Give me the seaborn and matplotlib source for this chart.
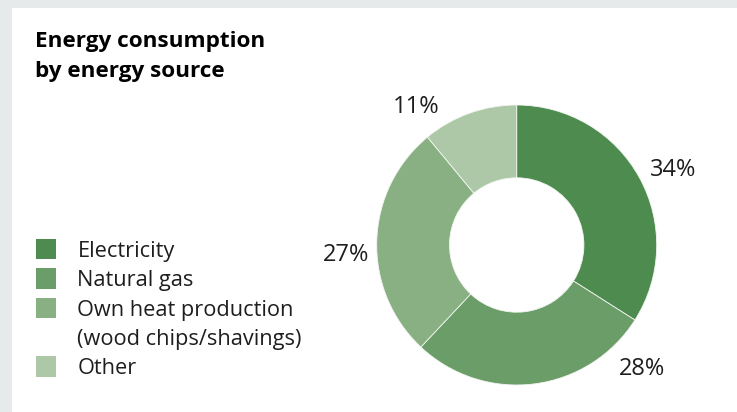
import matplotlib
matplotlib.use("Agg")
import matplotlib.pyplot as plt
from matplotlib.patches import Rectangle
import seaborn as sns

# data
sources = ["Electricity", "Natural gas", "Own heat production\n(wood chips/shavings)", "Other"]
shares = [34, 28, 27, 11]
colors = ["#4e8b4f", "#6a9d67", "#89b083", "#acc8a7"]

# label offsets from the donut centre, in px (x right, y down)
label_offsets = [(156, -75), (125, 124), (-171, 10), (-101, -138)]

W, H = 737, 412
CX, CY, R = 516.7, 245, 140

sns.set_theme(style="white")
plt.rcParams["font.family"] = ["Open Sans", "DejaVu Sans"]
TEXT = "#1e1e1e"

fig = plt.figure(figsize=(W / 100, H / 100), dpi=100, facecolor="#e6eaea")
ax = fig.add_axes([0, 0, 1, 1])


def Y(y):
    return H - y


ax.add_patch(Rectangle((12, 0), W - 12, H - 8, facecolor="white", edgecolor="none", zorder=0))

# title
ax.text(35, Y(46.5), "Energy consumption", fontsize=16.2, fontweight="bold", color="black", va="baseline")
ax.text(35, Y(77), "by energy source", fontsize=16.2, fontweight="bold", color="black", va="baseline")

# donut
ax.pie(shares, colors=colors, startangle=90, counterclock=False, radius=R,
       center=(CX, Y(CY)), frame=True,
       wedgeprops=dict(width=R * 0.52, edgecolor="#f2f5f1", linewidth=0.6))
ax.set_xlim(0, W)
ax.set_ylim(0, H)
ax.set_aspect("equal")
ax.set_axis_off()

for v, (dx, dy) in zip(shares, label_offsets):
    ax.text(CX + dx, Y(CY + dy), f"{v}%", fontsize=17, color=TEXT, ha="center", va="center")

# legend
baselines = [256.7, 286, 315.7, 374.3]
for name, c, b in zip(sources, colors, baselines):
    ax.add_patch(Rectangle((36, Y(b + 2.5)), 20.5, 20.5, facecolor=c, edgecolor="none"))
    lines = name.split("\n")
    for i, line in enumerate(lines):
        ax.text(77.5, Y(b + i * 29), line, fontsize=15.7, color=TEXT, va="baseline")

fig.savefig("out.png", dpi=100, facecolor=fig.get_facecolor())
